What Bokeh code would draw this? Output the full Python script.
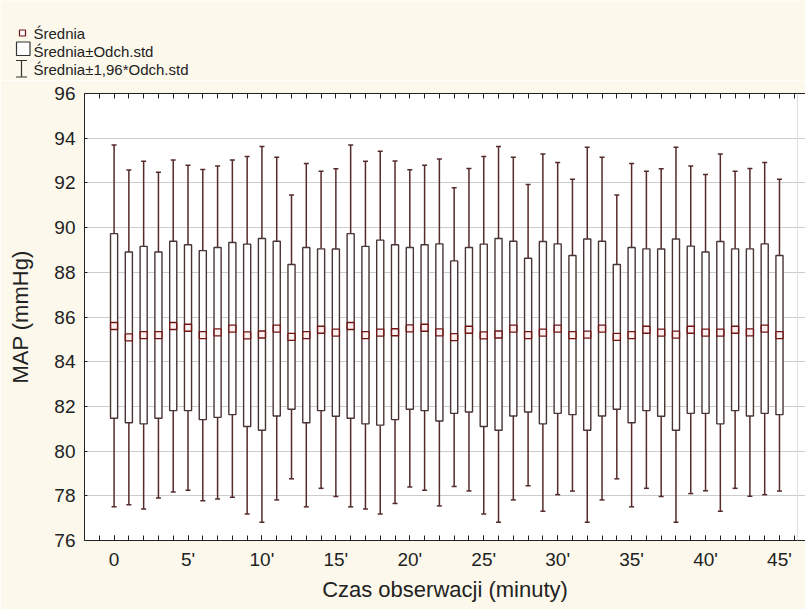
from bokeh.plotting import figure
from bokeh.layouts import column
from bokeh.models import FixedTicker, LinearAxis, Span, ColumnDataSource, Range1d
from bokeh.embed import file_html
from bokeh.resources import INLINE
from bokeh.core.properties import value

# Minute of observation and the MAP summary statistics (mmHg)
minutes = list(range(46))
mean_map = [85.60, 85.09, 85.19, 85.19, 85.60, 85.52, 85.19, 85.31, 85.48, 85.18,
            85.22, 85.48, 85.11, 85.19, 85.43, 85.30, 85.60, 85.19, 85.30, 85.32,
            85.49, 85.52, 85.31, 85.10, 85.43, 85.18, 85.22, 85.48, 85.19, 85.30,
            85.48, 85.19, 85.21, 85.48, 85.11, 85.19, 85.43, 85.30, 85.21, 85.43,
            85.30, 85.30, 85.43, 85.31, 85.48, 85.19]
sd_map = [4.13, 3.82, 3.97, 3.72, 3.79, 3.71, 3.78, 3.80, 3.85, 4.08,
          4.29, 3.91, 3.24, 3.92, 3.62, 3.74, 4.13, 3.97, 4.14, 3.91,
          3.62, 3.71, 3.96, 3.41, 3.68, 4.08, 4.29, 3.91, 3.44, 4.08,
          3.79, 3.56, 4.28, 3.91, 3.24, 3.92, 3.62, 3.74, 4.28, 3.74,
          3.61, 4.08, 3.62, 3.74, 3.79, 3.56]

x_major_ticks = [0, 5, 10, 15, 20, 25, 30, 35, 40, 45]
x_tick_labels = ["0", "5'", "10'", "15'", "20'", "25'", "30'", "35'", "40'", "45'"]
y_ticks = [76, 78, 80, 82, 84, 86, 88, 90, 92, 94, 96]
legend_labels = ["Średnia", "Średnia±Odch.std", "Średnia±1,96*Odch.std"]

FONT = "Liberation Sans"
BG = "#FCF9EC"
BOX_COLOR = "#4a3535"
WHISKER_COLOR = "#552a2a"
MEAN_COLOR = "#701414"
INK = "#222222"

src = ColumnDataSource(dict(
    x=minutes,
    mean=mean_map,
    lo=[m - s for m, s in zip(mean_map, sd_map)],
    hi=[m + s for m, s in zip(mean_map, sd_map)],
    wlo=[m - 1.96 * s for m, s in zip(mean_map, sd_map)],
    whi=[m + 1.96 * s for m, s in zip(mean_map, sd_map)],
))

# ---- legend strip (pixel coordinates, y pointing down) ----
LEG_H = 80
leg = figure(width=805, height=LEG_H, x_range=Range1d(0, 805), y_range=Range1d(LEG_H, 0),
             output_backend="svg", toolbar_location=None, min_border=0,
             x_axis_location=None, y_axis_location=None)
leg.frame_align = False
leg.grid.visible = False
leg.outline_line_color = None
leg.background_fill_color = BG
leg.border_fill_color = BG

leg.scatter(x=[22], y=[32.5], marker="square", size=6, fill_color="white",
            line_color=MEAN_COLOR, line_width=1.2)
leg.quad(left=[16], right=[29.5], top=[41.5], bottom=[55], fill_color="white",
         line_color="#333333", line_width=1.2)
leg.segment(x0=[21], y0=[60], x1=[21], y1=[76.5], line_color="#333333", line_width=1.2)
leg.segment(x0=[15.5, 15.5], y0=[60, 76.5], x1=[26.5, 26.5], y1=[60, 76.5],
            line_color="#333333", line_width=1.2)
leg.text(x=[33, 33, 33], y=[32.5, 50.8, 69.2], text=legend_labels,
         text_font=value(FONT), text_font_size="15px", text_color=INK,
         text_baseline="middle", text_align="left")

# ---- main chart ----
p = figure(width=805, height=609 - LEG_H, x_range=Range1d(-2.0, 46.76), y_range=Range1d(76, 96),
           output_backend="svg", toolbar_location=None,
           min_border_left=84, min_border_right=0, min_border_top=13, min_border_bottom=69)
p.frame_align = False
p.background_fill_color = "white"
p.border_fill_color = BG
p.outline_line_color = None
p.xgrid.visible = False
p.ygrid.grid_line_color = "#cccccc"
p.ygrid.grid_line_width = 1
p.ygrid.ticker = FixedTicker(ticks=y_ticks)

minute_ticks = list(range(-1, 47))

xa = p.xaxis[0]
xa.ticker = FixedTicker(ticks=x_major_ticks, minor_ticks=minute_ticks)
xa.major_label_overrides = {v: lab for v, lab in zip(x_major_ticks, x_tick_labels)}
xa.axis_label = "Czas obserwacji (minuty)"
xa.major_tick_in = 5
xa.major_tick_out = 0
xa.minor_tick_in = 5
xa.minor_tick_out = 0
xa.minor_tick_line_color = INK
xa.major_label_standoff = 8
xa.axis_label_standoff = 4

# top border carries the per-minute ticks only
top_axis = LinearAxis(ticker=FixedTicker(ticks=[], minor_ticks=minute_ticks),
                      major_tick_in=5, major_tick_out=0, minor_tick_in=5, minor_tick_out=0,
                      axis_line_color=INK, major_tick_line_color=INK,
                      minor_tick_line_color=INK)
p.add_layout(top_axis, "above")

ya = p.yaxis[0]
ya.ticker = FixedTicker(ticks=y_ticks)
ya.axis_label = "MAP (mmHg)"
ya.major_tick_in = 3
ya.major_tick_out = 0
ya.minor_tick_line_color = None
ya.major_label_standoff = 9
ya.axis_label_standoff = 18

for ax in (xa, ya):
    ax.axis_line_color = INK
    ax.major_tick_line_color = INK
    ax.major_label_text_font = FONT
    ax.major_label_text_font_size = "19px"
    ax.major_label_text_color = INK
    ax.axis_label_text_font = FONT
    ax.axis_label_text_font_size = "22px"
    ax.axis_label_text_font_style = "normal"
    ax.axis_label_text_color = INK

p.add_layout(Span(location=46.21, dimension="height", line_color="#dddddd", line_width=1))

# whiskers: mean ± 1.96·SD
p.segment(x0="x", y0="hi", x1="x", y1="whi", source=src, line_color=WHISKER_COLOR, line_width=1.5)
p.segment(x0="x", y0="lo", x1="x", y1="wlo", source=src, line_color=WHISKER_COLOR, line_width=1.5)
p.scatter(x="x", y="whi", source=src, marker="dash", size=5, line_color=WHISKER_COLOR, line_width=1.5)
p.scatter(x="x", y="wlo", source=src, marker="dash", size=5, line_color=WHISKER_COLOR, line_width=1.5)

# boxes: mean ± SD
p.vbar(x="x", width=0.48, bottom="lo", top="hi", source=src, fill_color="white",
       line_color=BOX_COLOR, line_width=1.4)

# mean markers
p.scatter(x="x", y="mean", source=src, marker="square", size=7, fill_color="#fdf0f0",
          line_color=MEAN_COLOR, line_width=1.4)

layout = column(leg, p, spacing=0)
open("out.html", "w").write(file_html(layout, INLINE))
